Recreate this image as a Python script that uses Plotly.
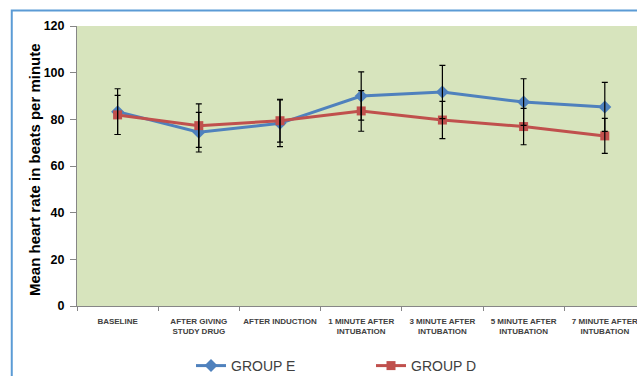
import plotly.graph_objects as go

# Time points of measurement
categories = [
    "BASELINE",
    "AFTER GIVING<br>STUDY DRUG",
    "AFTER INDUCTION",
    "1 MINUTE AFTER<br>INTUBATION",
    "3 MINUTE AFTER<br>INTUBATION",
    "5 MINUTE AFTER<br>INTUBATION",
    "7 MINUTE AFTER<br>INTUBATION",
]

# Mean heart rate (beats/min) and standard deviations
group_e_mean = [83.3, 74.5, 78.3, 90.0, 91.7, 87.4, 85.3]
group_e_sd = [9.8, 8.5, 10.0, 10.3, 11.4, 10.0, 10.5]
group_d_mean = [81.9, 77.3, 79.4, 83.6, 79.7, 76.9, 72.9]
group_d_sd = [8.4, 9.3, 9.2, 8.7, 8.0, 7.8, 7.5]

y_ticks = [0, 20, 40, 60, 80, 100, 120]
y_title = "Mean heart rate in beats per minute"

BLUE = "#4F81BD"
RED = "#C0504D"
FONT = "Liberation Sans, Arial, sans-serif"

fig = go.Figure()

fig.add_trace(go.Scatter(
    x=categories, y=group_e_mean, name="GROUP E", mode="lines+markers",
    line=dict(color=BLUE, width=3),
    marker=dict(symbol="diamond", size=10, color=BLUE),
))
fig.add_trace(go.Scatter(
    x=categories, y=group_d_mean, name="GROUP D", mode="lines+markers",
    line=dict(color=RED, width=3),
    marker=dict(symbol="square", size=9, color=RED),
))

# Standard deviation whiskers drawn above the lines and markers
for mean, sd in ((group_e_mean, group_e_sd), (group_d_mean, group_d_sd)):
    fig.add_trace(go.Scatter(
        x=categories, y=mean, mode="markers", showlegend=False, hoverinfo="skip",
        marker=dict(size=1, color="rgba(0,0,0,0)"),
        error_y=dict(type="data", array=sd, visible=True,
                     color="#000000", thickness=1.2, width=3),
    ))

# Chart-area border
fig.add_shape(type="rect", xref="paper", yref="paper",
              x0=-0.1165, x1=1.3, y0=-0.4, y1=1.0555,
              line=dict(color="#5B9BD5", width=2), fillcolor="rgba(0,0,0,0)",
              layer="below")

# Vertical axis title
fig.add_annotation(
    text=y_title, xref="paper", yref="paper",
    x=(34 - 77) / 560, y=(306 - 170) / 280, xanchor="center", yanchor="middle",
    textangle=-90, showarrow=False,
    font=dict(size=15, color="#000000", family=FONT, weight="bold"),
)

fig.update_layout(
    width=637, height=376,
    margin=dict(l=77, r=0, t=26, b=70, autoexpand=False),
    paper_bgcolor="white",
    plot_bgcolor="#D7E4BD",
    font=dict(family=FONT, color="#000000"),
    showlegend=True,
    legend=dict(
        orientation="h", x=0.525, xanchor="center",
        yref="container", y=1 - 366 / 376, yanchor="middle",
        font=dict(size=14, color="#404040", family=FONT),
        entrywidth=135, bgcolor="rgba(0,0,0,0)",
    ),
    xaxis=dict(
        type="category", automargin=False,
        range=[-0.5, -0.5 + 560 / 81.2],
        showgrid=False, zeroline=False,
        showline=True, linecolor="#868686", linewidth=1,
        ticks="outside", ticklen=4, tickcolor="#868686",
        tickson="boundaries", ticklabelstandoff=7,
        tickfont=dict(size=8, color="#404040", family=FONT, weight="bold"),
        tickangle=0,
    ),
    yaxis=dict(
        range=[0, 120], tickvals=y_ticks, automargin=False,
        showgrid=False, zeroline=False,
        showline=True, linecolor="#868686", linewidth=1,
        ticks="outside", ticklen=6, tickcolor="#868686",
        ticklabelstandoff=3,
        tickfont=dict(size=12.5, color="#000000", family=FONT, weight="bold"),
    ),
)

fig.write_html("out.html")
